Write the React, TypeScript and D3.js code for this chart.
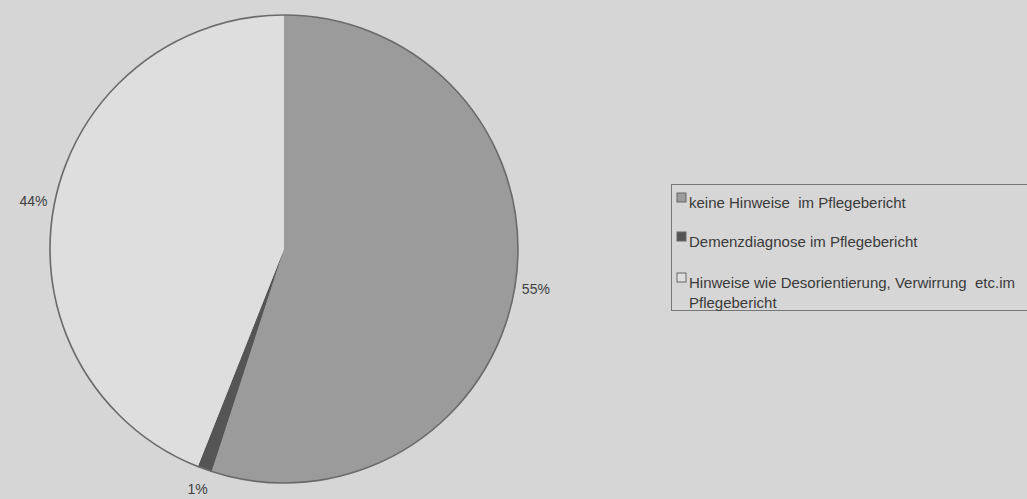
import React from "react";
import * as d3 from "d3";

const categories = [
  "keine Hinweise  im Pflegebericht",
  "Demenzdiagnose im Pflegebericht",
  "Hinweise wie Desorientierung, Verwirrung  etc.im Pflegebericht",
];
const values = [55, 1, 44];
const percentLabels = ["55%", "1%", "44%"];
const legendLines = [
  ["keine Hinweise  im Pflegebericht"],
  ["Demenzdiagnose im Pflegebericht"],
  ["Hinweise wie Desorientierung, Verwirrung  etc.im", "Pflegebericht"],
];
const colors = ["#9b9b9b", "#555555", "#dedede"];

const W = 1027;
const H = 499;
const cx = 284;
const cy = 249;
const R = 234;

export default function App() {
  const pie = d3.pie<number>().sort(null).value((d) => d)(values);
  const arc = d3.arc<d3.PieArcDatum<number>>().innerRadius(0).outerRadius(R);
  const labelArc = d3.arc<d3.PieArcDatum<number>>().innerRadius(R + 21).outerRadius(R + 21);
  const font = "'Liberation Sans', Arial, sans-serif";
  const legendY = [203, 242, 283];
  return (
    <div style={{ position: "fixed", left: 0, top: 0, width: W, height: H }}>
      <svg width={W} height={H} style={{ display: "block" }}>
        <rect x={0} y={0} width={W} height={H} fill="#d6d6d6" />
        <g transform={`translate(${cx},${cy})`}>
          {pie.map((p, i) => (
            <path key={i} d={arc(p) || ""} fill={colors[i]} stroke="none" />
          ))}
          <circle r={R} fill="none" stroke="#6a6a6a" strokeWidth={1.6} />
          {pie.map((p, i) => {
            const [lx, ly] = labelArc.centroid(p);
            return (
              <text
                key={"l" + i}
                x={lx}
                y={ly}
                textAnchor="middle"
                dominantBaseline="central"
                fontFamily={font}
                fontSize={14}
                fill="#3f3f3f"
              >
                {percentLabels[i]}
              </text>
            );
          })}
        </g>
        <g>
          <rect x={671.5} y={184.5} width={400} height={126} fill="none" stroke="#777" strokeWidth={1} />
          {categories.map((c, i) => (
            <g key={c}>
              <rect
                x={677}
                y={legendY[i] - 10}
                width={9}
                height={9}
                fill={colors[i]}
                stroke="#666"
                strokeWidth={1}
              />
              {legendLines[i].map((t, j) => (
                <text
                  key={j}
                  x={689}
                  y={legendY[i] + 5 + j * 20}
                  fontFamily={font}
                  fontSize={15}
                  fill="#3a3a3a"
                  style={{ whiteSpace: "pre" }}
                >
                  {t}
                </text>
              ))}
            </g>
          ))}
        </g>
      </svg>
    </div>
  );
}
